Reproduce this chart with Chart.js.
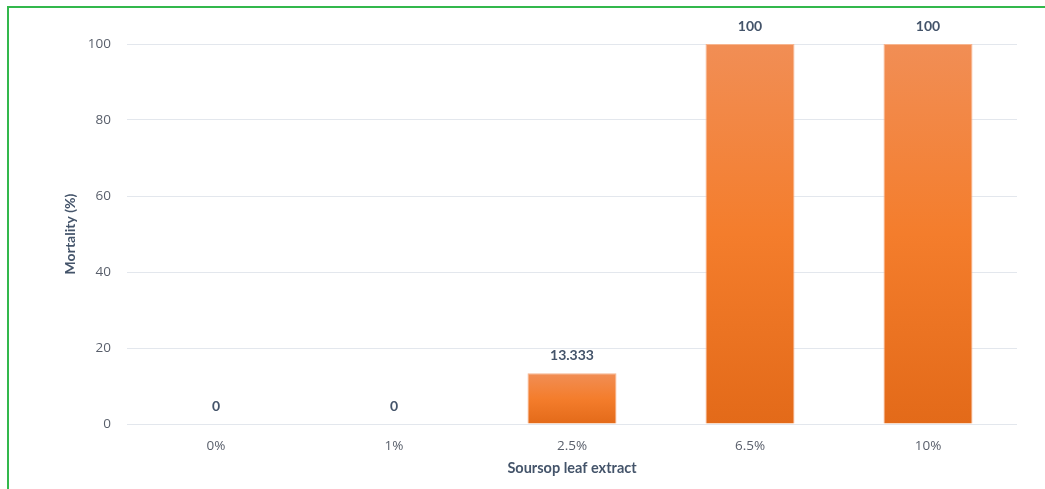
<!DOCTYPE html>
<html>
<head>
<meta charset="utf-8">
<script src="https://cdn.jsdelivr.net/npm/chart.js@4"></script>
<style>
  body { margin: 0; background: #fff; overflow: hidden; }
  #frame { position: absolute; left: 7px; top: 6px; width: 1200px; height: 700px; border: 2px solid #33B84C; }
  #wrap { position: absolute; left: 0; top: 0; width: 1045px; height: 489px; }
</style>
</head>
<body>
<div id="frame"></div>
<div id="wrap"><canvas id="mort" width="1045" height="489"></canvas></div>
<script>
const labels = ['0%', '1%', '2.5%', '6.5%', '10%']
const mortality = [0, 0, 13.333, 100, 100]
const yTicks = [0, 20, 40, 60, 80, 100]

const textColor = '#44546A'
const tickColor = '#595F6B'

// orange bars, lighter at the top of each bar
const barFill = (ctx) => {
    const chart = ctx.chart
    const y = chart.scales.y
    if (!chart.chartArea || !y) return '#F47E2E'
    const top = y.getPixelForValue(ctx.raw)
    const base = y.getPixelForValue(0)
    if (base - top < 1) return '#F47E2E'
    const g = chart.ctx.createLinearGradient(0, top, 0, base)
    g.addColorStop(0, '#F18E55')
    g.addColorStop(0.5, '#F47D2C')
    g.addColorStop(1, '#E36A19')
    return g
}

const valueLabels = {
    id: 'valueLabels',
    afterDatasetsDraw(chart) {
        const c = chart.ctx
        c.save()
        c.font = 'bold 14px Lato'
        c.fillStyle = textColor
        c.textAlign = 'center'
        c.textBaseline = 'middle'
        chart.getDatasetMeta(0).data.forEach((bar, i) => {
            c.fillText(String(mortality[i]), bar.x, bar.y - 18)
        })
        c.restore()
    }
}

const mort = new Chart(
    document.getElementById('mort'),
    {
        type: 'bar',
        data: {
            labels: labels,
            datasets: [{
                label: 'Mortality',
                data: mortality,
                backgroundColor: barFill,
                borderColor: '#F7B58F',
                borderWidth: 1,
                categoryPercentage: 1,
                barPercentage: 0.5,
            }]
        },
        options: {
            responsive: false,
            animation: false,
            layout: { padding: { left: 62, right: 28, top: 44, bottom: 8 } },
            scales: {
                y: {
                    min: 0,
                    max: 100,
                    afterBuildTicks: (s) => { s.ticks = yTicks.map(v => ({ value: v })) },
                    afterFit: (s) => { s.width = 65 },
                    ticks: {
                        color: tickColor,
                        padding: 16,
                        font: { family: 'Open Sans', size: 13.5 },
                    },
                    grid: { color: '#E3E7ED', lineWidth: 1, drawTicks: false },
                    border: { display: false },
                    title: {
                        display: true,
                        text: 'Mortality (%)',
                        color: textColor,
                        font: { family: 'Lato', size: 14, weight: 'bold' },
                        padding: { top: 0, bottom: 4 },
                    },
                },
                x: {
                    afterFit: (s) => { s.height = 57 },
                    ticks: {
                        color: tickColor,
                        padding: 14,
                        font: { family: 'Open Sans', size: 13.5 },
                    },
                    grid: { display: false, drawTicks: false },
                    border: { display: false },
                    title: {
                        display: true,
                        text: 'Soursop leaf extract',
                        color: textColor,
                        font: { family: 'Lato', size: 14.5, weight: 'bold' },
                        padding: { top: 4, bottom: 4 },
                    },
                },
            },
            plugins: {
                legend: { display: false },
                tooltip: { enabled: false },
            },
        },
        plugins: [valueLabels]
    }
)
</script>
</body>
</html>
